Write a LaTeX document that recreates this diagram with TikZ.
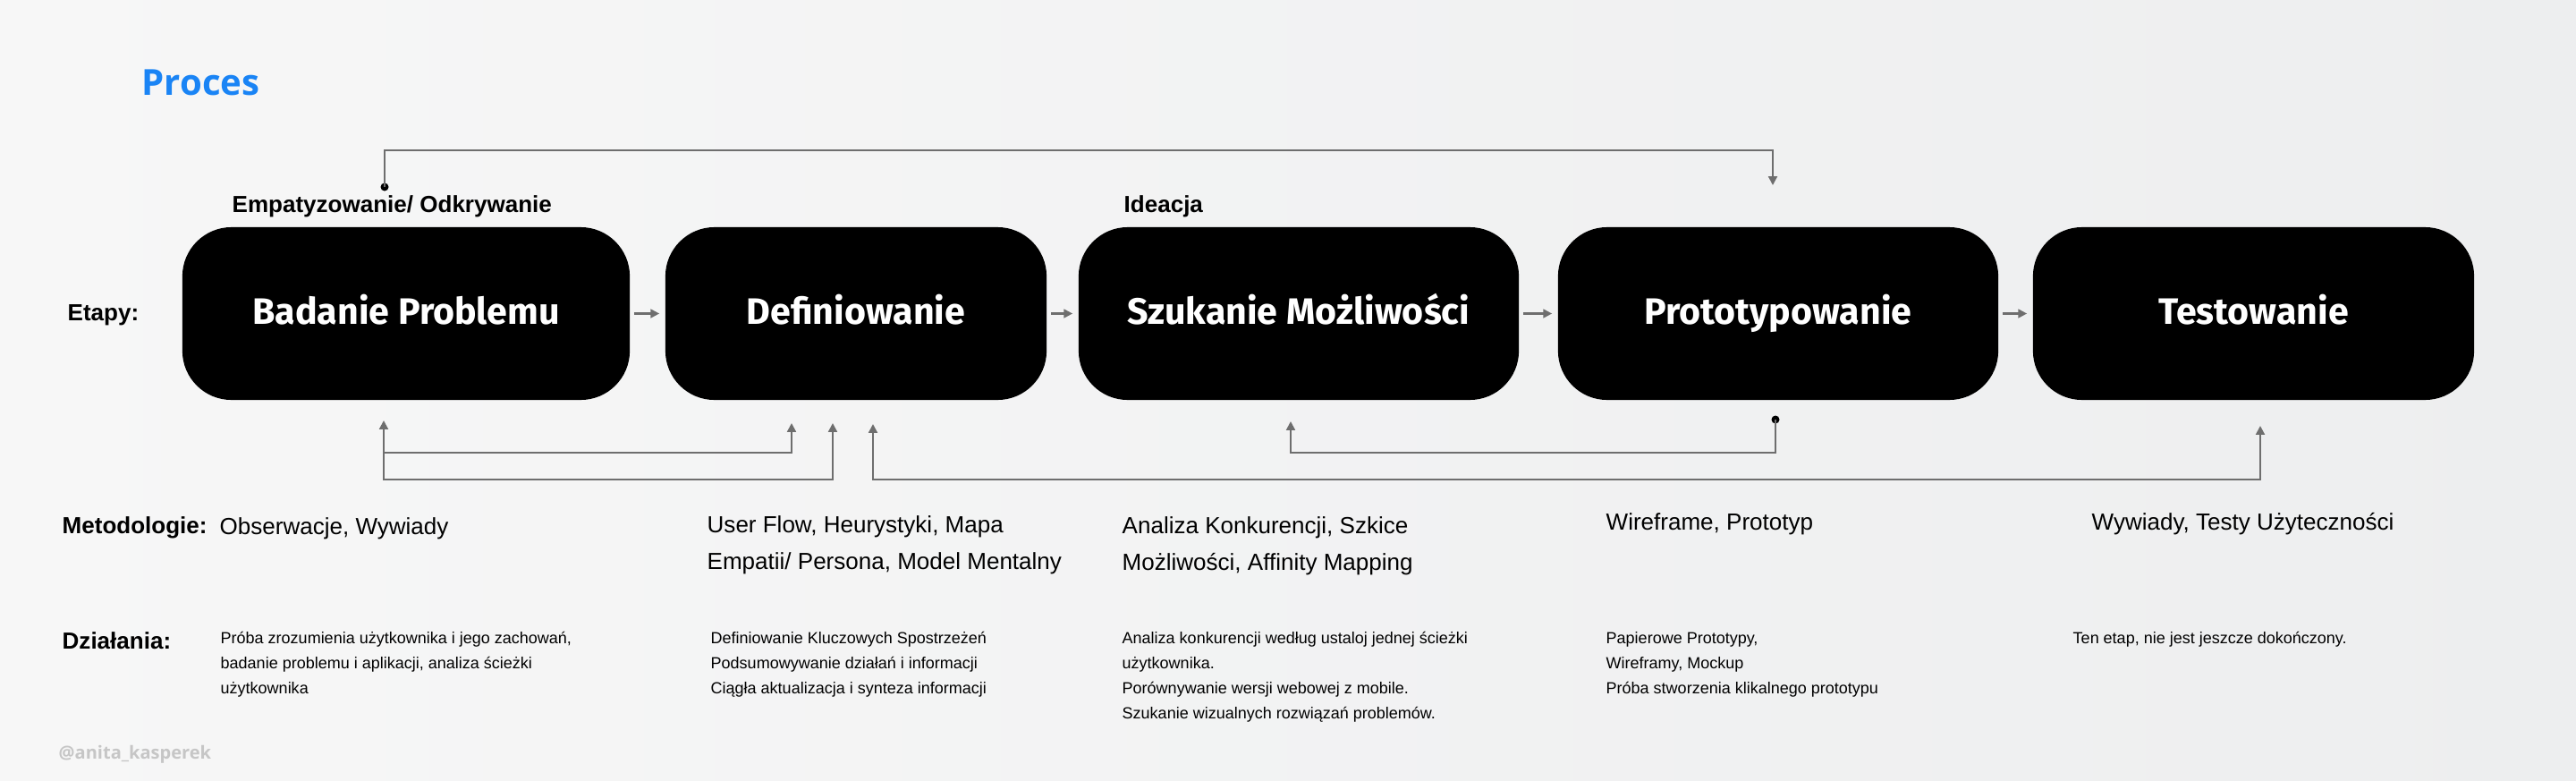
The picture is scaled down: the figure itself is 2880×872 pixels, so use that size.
\documentclass[tikz,border=0pt]{standalone}
\usepackage{fontspec}
\setmainfont{Liberation Sans}
\newfontfamily\boxfont{Fira Sans}
\newfontfamily\titlefont{Open Sans}
\usetikzlibrary{arrows.meta}
\definecolor{bgL}{HTML}{F7F7F7}
\definecolor{bgR}{HTML}{EDEEEF}
\definecolor{lineC}{HTML}{6E6E6E}
\definecolor{titleC}{HTML}{1A84F5}
\definecolor{markC}{HTML}{C6C6C6}
\tikzset{
  stage/.style={fill=black, rounded corners=0.55cm, minimum height=1.93cm, inner sep=0pt,
    text height=0.69em, text depth=0pt,
    text=white, font=\boxfont\bfseries\fontsize{11.7pt}{13pt}\selectfont},
  conn/.style={draw=lineC, line width=0.6pt, -{Triangle[length=2.8pt,width=2.8pt]}},
  conn2/.style={draw=lineC, line width=0.6pt, {Triangle[length=2.8pt,width=2.8pt]}-{Triangle[length=2.8pt,width=2.8pt]}},
  lbl/.style={anchor=base west, inner sep=0pt, font=\bfseries\fontsize{7.4pt}{9pt}\selectfont},
  meth/.style={anchor=base west, inner sep=0pt, align=left, font=\fontsize{7.4pt}{11.5pt}\selectfont},
  act/.style={anchor=base west, inner sep=0pt, align=left, font=\fontsize{5.12pt}{7.9pt}\selectfont},
}
\begin{document}
\begin{tikzpicture}[x=0.01cm, y=-0.01cm]
\fill[left color=bgL, right color=bgR] (0,0) rectangle (2880,872);
\useasboundingbox (0,0) rectangle (2880,872);

% title
\node[anchor=base west, inner sep=0pt, text=titleC, font=\titlefont\bfseries\fontsize{11.4pt}{13pt}\selectfont] (title) at (158,106) {Proces};
\node[anchor=base west, inner sep=0pt, text=markC, font=\titlefont\bfseries\fontsize{5.7pt}{7pt}\selectfont] (mark) at (65,848) {@anita\_kasperek};

% phase labels
\node[lbl] (emp) at (259,237) {Empatyzowanie/ Odkrywanie};
\node[lbl] (idea) at (1256,237) {Ideacja};
\node[lbl] (etapy) at (75,358) {Etapy:};
\node[lbl] (metod) at (69,596) {Metodologie:};
\node[lbl] (dzial) at (69,725) {Działania:};

% stages
\node[stage, minimum width=5.00cm] (b1) at (454,350.5) {Badanie Problemu};
\node[stage, minimum width=4.26cm] (b2) at (957,350.5) {Definiowanie};
\node[stage, minimum width=4.92cm] (b3) at (1452,350.5) {Szukanie Możliwości};
\node[stage, minimum width=4.92cm] (b4) at (1988,350.5) {Prototypowanie};
\node[stage, minimum width=4.93cm] (b5) at (2519.5,350.5) {Testowanie};

% arrows between stages
\foreach \a/\b in {b1/b2, b2/b3, b3/b4, b4/b5}
  \draw[conn, shorten <=0.04cm, shorten >=0.06cm] (\a.east) -- (\b.west);

% top feedback connector
\coordinate (tS) at (430,209);
\coordinate (tE) at (1982,207);
\fill[black] (tS) circle (0.045cm);
\draw[conn] (tS) -- (430,168) -| (tE);

% bottom connectors
\coordinate (p1) at (429,470);
\coordinate (p2) at (885,473);
\coordinate (p3) at (931,473);
\coordinate (p4) at (976,474);
\coordinate (p5) at (2527,476);
\coordinate (p6) at (1985,469);
\coordinate (p7) at (1443,471);
\draw[conn2] (p1) |- (885,506) -- (p2);
\draw[conn] (429,506) -- (429,536) -| (p3);
\draw[conn2] (p4) |- (2527,536) -- (p5);
\fill[black] (p6) circle (0.045cm);
\draw[conn] (p6) |- (1443,506) -- (p7);

% methodologies (anchored at the baseline of the last line)
\node[meth] (m1) at (245,597) {Obserwacje, Wywiady};
\node[meth] (m2) at (790,636) {User Flow, Heurystyki, Mapa\\Empatii/ Persona, Model Mentalny};
\node[meth] (m3) at (1254,637) {Analiza Konkurencji, Szkice\\Możliwości, Affinity Mapping};
\node[meth] (m4) at (1795,592) {Wireframe, Prototyp};
\node[meth] (m5) at (2338,592) {Wywiady, Testy Użyteczności};

% actions (anchored at the baseline of the last line)
\node[act] (a1) at (246,775) {Próba zrozumienia użytkownika i jego zachowań,\\badanie problemu i aplikacji, analiza ścieżki\\użytkownika};
\node[act] (a2) at (794,775) {Definiowanie Kluczowych Spostrzeżeń\\Podsumowywanie działań i informacji\\Ciągła aktualizacja i synteza informacji};
\node[act] (a3) at (1254,803) {Analiza konkurencji według ustaloj jednej ścieżki\\użytkownika.\\Porównywanie wersji webowej z mobile.\\Szukanie wizualnych rozwiązań problemów.};
\node[act] (a4) at (1795,775) {Papierowe Prototypy,\\Wireframy, Mockup\\Próba stworzenia klikalnego prototypu};
\node[act] (a5) at (2317,719) {Ten etap, nie jest jeszcze dokończony.};
\end{tikzpicture}
\end{document}
